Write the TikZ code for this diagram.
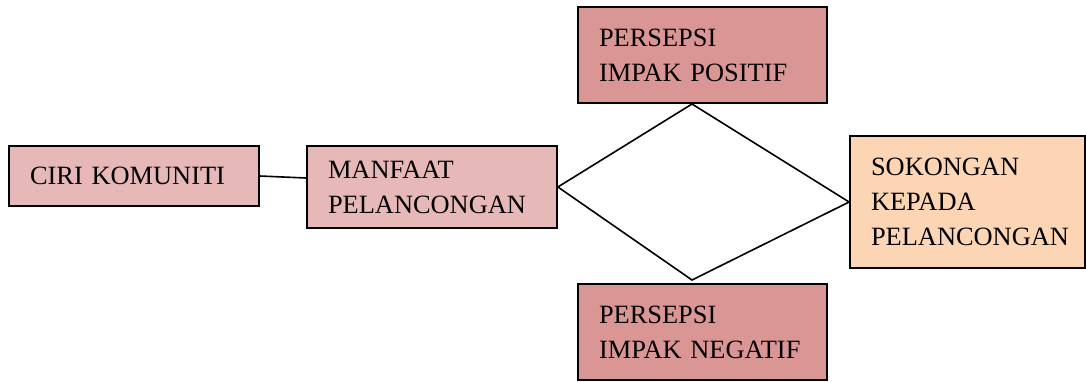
\documentclass[tikz,border=0pt]{standalone}
\usepackage{fontspec}
\setmainfont{Liberation Serif}
\usepackage{tikz}

\definecolor{pinklight}{HTML}{E6B8B7}
\definecolor{pinkdark}{HTML}{DA9694}
\definecolor{peach}{HTML}{FCD5B4}

\tikzset{
  box/.style={draw, line width=0.9pt, inner xsep=10.5pt, inner ysep=0pt, align=left,
    font=\fontsize{13.2}{17.5}\selectfont},
  link/.style={line width=0.8pt}
}

\begin{document}
\begin{tikzpicture}[x=0.5pt, y=-0.5pt]
      \useasboundingbox (0,0) rectangle (1086,381);
      % Boxes:
      \node[box, fill=pinklight, text width=104pt, minimum height=30pt] (ciri) at (134,176) {CIRI KOMUNITI};
      \node[box, fill=pinklight, text width=104pt, minimum height=41pt] (manfaat) at (432,187) {MANFAAT\\PELANCONGAN};
      \node[box, fill=pinkdark, text width=103.5pt, minimum height=48pt] (positif) at (702.5,55) {PERSEPSI\\IMPAK POSITIF};
      \node[box, fill=pinkdark, text width=103.5pt, minimum height=48pt] (negatif) at (702.5,332) {PERSEPSI\\IMPAK NEGATIF};
      \node[box, fill=peach, text width=96.5pt, minimum height=66pt] (sokongan) at (967.5,202) {SOKONGAN\\KEPADA\\PELANCONGAN};
      % Diamond corners:
      \coordinate (dtop) at (692,104);
      \coordinate (dbot) at (692,280);
      \draw[link] (ciri.east) -- ([yshift=-1pt]ciri.east -| manfaat.west);
      \draw[link] (manfaat.east) -- (dtop) -- (sokongan.west) -- (dbot) -- cycle;
    \end{tikzpicture}
\end{document}
